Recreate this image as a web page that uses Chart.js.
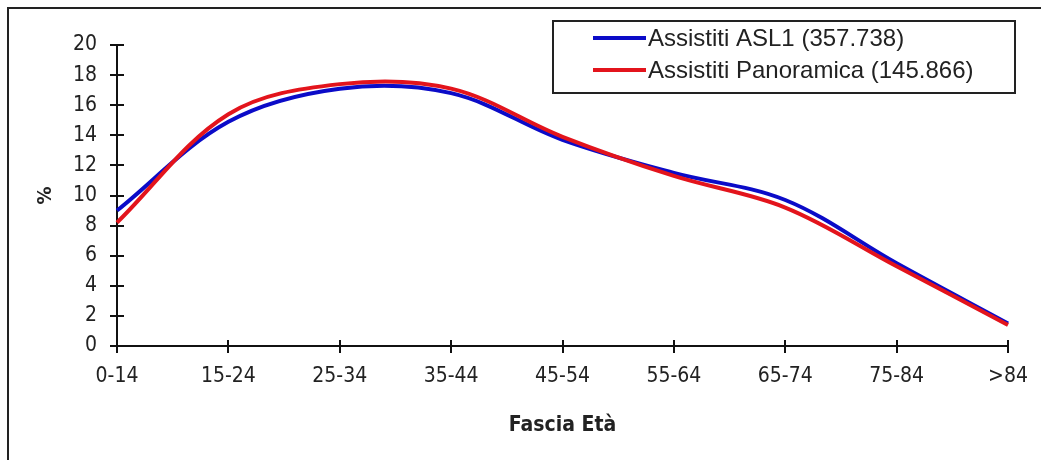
<!DOCTYPE html>
<html>
<head>
<meta charset="utf-8">
<script src="https://cdn.jsdelivr.net/npm/chart.js@4.4.1/dist/chart.umd.min.js"></script>
<style>
  html, body { margin: 0; padding: 0; background: #fff; }
  #wrap { width: 1041px; height: 460px; position: relative; }
</style>
</head>
<body>
<div id="wrap"><canvas id="myChart" width="1041" height="460"></canvas></div>
<script>
'use strict';

// *Data*
const ageGroups = ['0-14', '15-24', '25-34', '35-44', '45-54', '55-64', '65-74', '75-84', '>84'];
const asl1Values = [9.0, 14.9, 17.1, 16.8, 13.7, 11.5, 9.7, 5.5, 1.5];
const panoramicaValues = [8.2, 15.4, 17.4, 17.1, 13.9, 11.3, 9.2, 5.3, 1.4];
const seriesNames = ['Assistiti ASL1 (357.738)', 'Assistiti Panoramica (145.866)'];
const yTicks = [0, 2, 4, 6, 8, 10, 12, 14, 16, 18, 20];

const narrowFont = "'Liberation Sans Narrow', 'DejaVu Sans Condensed', 'Arial Narrow', sans-serif";
const blue = '#0b0bc8';
const red = '#e3141c';

const ctx = document.getElementById('myChart');

// frame, crossing tick marks and the boxed legend
const decorations = {
  id: 'decorations',
  beforeDraw(chart) {
    const c = chart.ctx;
    c.save();
    c.fillStyle = '#fff';
    c.fillRect(0, 0, chart.width, chart.height);
    c.strokeStyle = '#222';
    c.lineWidth = 2;
    c.beginPath();
    c.moveTo(8, chart.height);
    c.lineTo(8, 8);
    c.lineTo(chart.width, 8);
    c.stroke();
    c.restore();
  },
  afterDraw(chart) {
    const c = chart.ctx;
    const x = chart.scales.x;
    const y = chart.scales.y;
    c.save();
    c.strokeStyle = '#111';
    c.lineWidth = 2;
    c.beginPath();
    yTicks.forEach(function (v) {
      const py = Math.round(y.getPixelForValue(v));
      c.moveTo(x.left - 7, py);
      c.lineTo(x.left + 7, py);
    });
    ageGroups.forEach(function (g, i) {
      const px = Math.round(x.getPixelForValue(i));
      c.moveTo(px, y.bottom - 6);
      c.lineTo(px, y.bottom + 7);
    });
    c.stroke();

    // legend box
    c.lineWidth = 2;
    c.strokeStyle = '#222';
    c.strokeRect(553, 21, 462, 72);
    c.font = '24px "Liberation Sans", Arial, sans-serif';
    c.textBaseline = 'middle';
    c.fillStyle = '#222';
    chart.data.datasets.forEach(function (ds, i) {
      const ly = 38 + i * 32;
      c.strokeStyle = ds.borderColor;
      c.lineWidth = 4;
      c.beginPath();
      c.moveTo(593, ly);
      c.lineTo(646, ly);
      c.stroke();
      c.fillText(ds.label, 648, ly + 1);
    });
    c.restore();
  }
};

new Chart(ctx, {
  type: 'line',
  data: {
    labels: ageGroups,
    datasets: [
      {
        label: seriesNames[0],
        data: asl1Values,
        borderColor: blue,
        borderWidth: 4,
        pointRadius: 0,
        tension: 0.35,
        order: 1
      },
      {
        label: seriesNames[1],
        data: panoramicaValues,
        borderColor: red,
        borderWidth: 4,
        pointRadius: 0,
        tension: 0.35,
        order: 0
      }
    ]
  },
  options: {
    responsive: false,
    animation: false,
    layout: { padding: { left: 0, right: 33, top: 45, bottom: 0 } },
    plugins: {
      legend: { display: false },
      tooltip: { enabled: false }
    },
    scales: {
      x: {
        grid: { display: false, drawTicks: false },
        border: { display: true, color: '#111', width: 2 },
        ticks: {
          color: '#222',
          padding: 18,
          maxRotation: 0,
          autoSkip: false,
          font: { family: narrowFont, size: 21 }
        },
        title: {
          display: true,
          text: 'Fascia Età',
          color: '#222',
          font: { family: narrowFont, size: 21, weight: 'bold' },
          padding: { top: 0, bottom: 22 }
        },
        afterFit(scale) {
          scale.height = 114;
          scale.paddingRight = 0;
        }
      },
      y: {
        min: 0,
        max: 20,
        grid: { display: false, drawTicks: false },
        border: { display: true, color: '#111', width: 2 },
        ticks: {
          stepSize: 2,
          color: '#222',
          padding: 20,
          font: { family: narrowFont, size: 21 }
        },
        title: {
          display: true,
          text: '%',
          color: '#222',
          font: { family: narrowFont, size: 20, weight: 'bold' },
          padding: { top: 34, bottom: 0 }
        },
        afterFit(scale) { scale.width = 117; }
      }
    }
  },
  plugins: [decorations]
});
</script>
</body>
</html>
